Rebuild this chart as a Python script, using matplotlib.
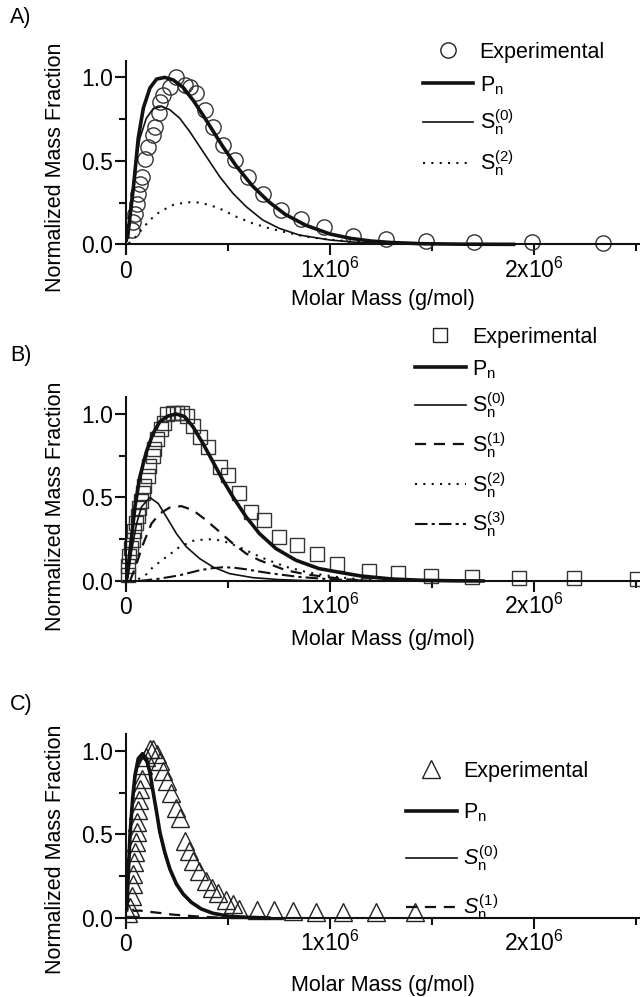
import matplotlib
matplotlib.use('Agg')
import matplotlib.pyplot as plt
from matplotlib.lines import Line2D

plt.rcParams['font.family'] = ['Liberation Sans', 'DejaVu Sans']
plt.rcParams['mathtext.fontset'] = 'custom'
plt.rcParams['mathtext.rm'] = 'Liberation Sans'
plt.rcParams['mathtext.it'] = 'Liberation Sans:italic'
plt.rcParams['mathtext.bf'] = 'Liberation Sans:bold'

MEGA = 1e6  # x values below are in 10^6 g/mol

# ---- panel A ----
a_exp_x = [0.028, 0.035, 0.043, 0.052, 0.060, 0.068, 0.076, 0.093, 0.109, 0.133, 0.141, 0.163,
           0.166, 0.182, 0.215, 0.247, 0.288, 0.312, 0.345, 0.385, 0.426, 0.475, 0.532, 0.597,
           0.670, 0.759, 0.857, 0.971, 1.112, 1.275, 1.470, 1.707, 1.990, 2.341]
a_exp_y = [0.088, 0.134, 0.184, 0.244, 0.304, 0.364, 0.404, 0.514, 0.584, 0.654, 0.704, 0.784,
           0.854, 0.894, 0.944, 1.004, 0.954, 0.944, 0.904, 0.804, 0.704, 0.594, 0.504, 0.404,
           0.304, 0.204, 0.154, 0.104, 0.052, 0.032, 0.022, 0.016, 0.012, 0.006]
a_p_x = [0.008, 0.02, 0.036, 0.06, 0.085, 0.117, 0.15, 0.19, 0.231, 0.28, 0.328, 0.377, 0.426,
         0.475, 0.54, 0.62, 0.70, 0.78, 0.88, 1.0, 1.1, 1.2, 1.3, 1.45, 1.65, 1.9]
a_p_y = [0.044, 0.17, 0.336, 0.636, 0.816, 0.936, 0.99, 1.0, 0.985, 0.94, 0.865, 0.775, 0.68,
         0.585, 0.47, 0.35, 0.255, 0.18, 0.115, 0.062, 0.036, 0.02, 0.011, 0.004, 0.001, 0.0]
a_s0_x = [0.006, 0.02, 0.044, 0.068, 0.1, 0.133, 0.174, 0.215, 0.263, 0.312, 0.361, 0.41, 0.459,
          0.524, 0.589, 0.67, 0.751, 0.849, 1.0, 1.15, 1.3, 1.5]
a_s0_y = [0.02, 0.196, 0.456, 0.636, 0.756, 0.812, 0.826, 0.806, 0.756, 0.676, 0.586, 0.496, 0.406,
          0.306, 0.226, 0.146, 0.096, 0.056, 0.026, 0.01, 0.004, 0.0]
a_s2_x = [0.013, 0.04, 0.068, 0.117, 0.166, 0.231, 0.296, 0.345, 0.41, 0.475, 0.54, 0.621, 0.702,
          0.784, 0.881, 1.0, 1.15, 1.3, 1.5]
a_s2_y = [0.005, 0.035, 0.076, 0.146, 0.196, 0.236, 0.252, 0.252, 0.236, 0.206, 0.166, 0.126, 0.096,
          0.072, 0.046, 0.028, 0.012, 0.005, 0.0]

# ---- panel B ----
b_exp_x = [0.008, 0.008, 0.016, 0.024, 0.033, 0.041, 0.049, 0.057, 0.065, 0.073, 0.081, 0.089,
           0.106, 0.114, 0.13, 0.138, 0.154, 0.171, 0.187, 0.203, 0.228, 0.252, 0.276, 0.30,
           0.33, 0.365, 0.40, 0.459, 0.499, 0.556, 0.612, 0.678, 0.751, 0.84, 0.938, 1.036,
           1.19, 1.335, 1.494, 1.694, 1.926, 2.195, 2.504]
b_exp_y = [0.038, 0.088, 0.148, 0.198, 0.248, 0.298, 0.348, 0.388, 0.438, 0.478, 0.528, 0.568,
           0.628, 0.688, 0.748, 0.788, 0.848, 0.908, 0.948, 0.998, 1.008, 1.008, 1.008, 0.99,
           0.928, 0.86, 0.80, 0.684, 0.634, 0.524, 0.414, 0.364, 0.264, 0.214, 0.164, 0.104,
           0.062, 0.045, 0.03, 0.025, 0.02, 0.015, 0.01]
b_p_x = [0.006, 0.02, 0.044, 0.068, 0.1, 0.133, 0.166, 0.206, 0.247, 0.288, 0.328, 0.377, 0.426,
         0.475, 0.524, 0.589, 0.654, 0.735, 0.833, 0.946, 1.036, 1.15, 1.3, 1.45, 1.6, 1.75]
b_p_y = [0.03, 0.184, 0.444, 0.624, 0.774, 0.884, 0.954, 0.988, 1.0, 0.984, 0.924, 0.824, 0.714,
         0.604, 0.504, 0.384, 0.284, 0.194, 0.124, 0.074, 0.054, 0.03, 0.012, 0.004, 0.001, 0.0]
b_s0_x = [0.007, 0.028, 0.052, 0.076, 0.117, 0.158, 0.198, 0.247, 0.296, 0.361, 0.426, 0.507,
          0.621, 0.751, 0.881, 1.0]
b_s0_y = [0.004, 0.184, 0.344, 0.444, 0.5, 0.464, 0.384, 0.284, 0.204, 0.134, 0.084, 0.044,
          0.02, 0.008, 0.002, 0.0]
b_s1_x = [0.02, 0.052, 0.085, 0.125, 0.166, 0.215, 0.272, 0.328, 0.393, 0.459, 0.524, 0.589,
          0.654, 0.719, 0.784, 0.881, 0.979, 1.08, 1.2]
b_s1_y = [0.0, 0.104, 0.224, 0.344, 0.404, 0.44, 0.448, 0.424, 0.364, 0.294, 0.224, 0.164,
          0.124, 0.094, 0.064, 0.04, 0.024, 0.01, 0.0]
b_s2_x = [0.06, 0.1, 0.133, 0.198, 0.263, 0.328, 0.393, 0.44, 0.5, 0.56, 0.62, 0.686, 0.784,
          0.88, 0.946, 1.044, 1.15, 1.25]
b_s2_y = [0.01, 0.04, 0.084, 0.144, 0.204, 0.24, 0.25, 0.248, 0.23, 0.2, 0.165, 0.13, 0.085,
          0.055, 0.04, 0.022, 0.01, 0.0]
b_s3_x = [0.068, 0.166, 0.263, 0.361, 0.42, 0.475, 0.524, 0.589, 0.654, 0.719, 0.849, 0.979,
          1.11, 1.25]
b_s3_y = [0.0, 0.014, 0.034, 0.064, 0.076, 0.082, 0.08, 0.07, 0.056, 0.044, 0.024, 0.012,
          0.004, 0.0]

# ---- panel C ----
c_exp_x = [0.012, 0.02, 0.028, 0.033, 0.036, 0.039, 0.044, 0.049, 0.052, 0.055, 0.06, 0.065,
           0.068, 0.076, 0.085, 0.098, 0.117, 0.133, 0.15, 0.166, 0.182, 0.2, 0.22, 0.245,
           0.265, 0.29, 0.31, 0.33, 0.36, 0.39, 0.42, 0.45, 0.49, 0.525, 0.556, 0.644, 0.727,
           0.82, 0.932, 1.063, 1.224, 1.415]
c_exp_y = [0.03, 0.064, 0.134, 0.204, 0.264, 0.334, 0.394, 0.454, 0.514, 0.574, 0.644, 0.704,
           0.774, 0.834, 0.914, 0.964, 1.014, 1.014, 0.985, 0.94, 0.88, 0.82, 0.75, 0.66,
           0.6, 0.46, 0.4, 0.34, 0.28, 0.22, 0.18, 0.15, 0.11, 0.085, 0.055, 0.05, 0.045,
           0.04, 0.038, 0.036, 0.035, 0.035]
c_p_x = [0.004, 0.011, 0.0195, 0.0325, 0.044, 0.06, 0.081, 0.1, 0.117, 0.133, 0.15, 0.166, 0.19,
         0.215, 0.247, 0.28, 0.32, 0.369, 0.426, 0.507, 0.589, 0.7]
c_p_y = [0.05, 0.254, 0.494, 0.714, 0.854, 0.954, 0.984, 0.954, 0.874, 0.754, 0.634, 0.514, 0.394,
         0.294, 0.204, 0.144, 0.094, 0.054, 0.028, 0.01, 0.004, 0.0]
c_s0_x = c_p_x
c_s0_y = [0.04, 0.24, 0.47, 0.69, 0.83, 0.93, 0.96, 0.935, 0.86, 0.74, 0.62, 0.5, 0.38,
          0.285, 0.196, 0.138, 0.09, 0.052, 0.026, 0.009, 0.003, 0.0]
c_s1_x = [0.006, 0.012, 0.025, 0.04, 0.068, 0.12, 0.166, 0.23, 0.296, 0.36, 0.426, 0.5]
c_s1_y = [0.16, 0.11, 0.06, 0.042, 0.044, 0.036, 0.03, 0.02, 0.014, 0.008, 0.004, 0.0]

INK = '#111111'
FS = 15.5
TICK_FS = 16.5

styles = {
    'P': dict(color=INK, lw=2.6, ls='-'),
    'S0': dict(color=INK, lw=1.2, ls='-'),
    'S1': dict(color=INK, lw=1.6, ls=(0, (5, 3.5))),
    'S2': dict(color=INK, lw=1.5, ls=(0, (1, 3))),
    'S3': dict(color=INK, lw=1.5, ls=(0, (6, 2, 1.5, 2))),
}

H = 997.0
fig = plt.figure(figsize=(6.4, 9.97), dpi=100)
left = 126 / 640.0
width = 1 - left
ax_h = 192 / H
axA = fig.add_axes([left, 1 - 252.7 / H, width, ax_h])
axB = fig.add_axes([left, 1 - 589.3 / H, width, ax_h])
axC = fig.add_axes([left, 1 - 926.3 / H, width, ax_h])


def mx(vals):
    return [v * MEGA for v in vals]


def style_axes(ax, xlab_y, ylab_y):
    ax.set_xlim(0, 2.52e6)
    ax.set_ylim(-0.05, 1.1)
    for s in ['top', 'right']:
        ax.spines[s].set_visible(False)
    ax.spines['bottom'].set_position(('data', 0))
    for s in ['left', 'bottom']:
        ax.spines[s].set_linewidth(1.5)
        ax.spines[s].set_color(INK)
    ax.set_xticks([0, 1e6, 2e6])
    ax.set_xticklabels(['0', '1x10$^{6}$', '2x10$^{6}$'])
    ax.set_xticks([0.5e6, 1.5e6, 2.5e6], minor=True)
    ax.set_yticks([0, 0.5, 1.0])
    ax.set_yticklabels(['0.0', '0.5', '1.0'])
    ax.set_yticks([0.25, 0.75], minor=True)
    ax.tick_params(which='major', direction='out', length=8, width=1.5, labelsize=TICK_FS, color=INK)
    ax.tick_params(which='minor', direction='out', length=5, width=1.5, color=INK)
    ax.tick_params(axis='y', pad=1)
    ax.tick_params(axis='x', pad=16)
    plt.setp(ax.get_xticklabels(), va='baseline')
    ax.set_xlabel('Molar Mass (g/mol)', fontsize=FS, va='center')
    ax.xaxis.set_label_coords(0.5, xlab_y)
    ax.set_ylabel('Normalized Mass Fraction', fontsize=FS, va='center')
    ax.yaxis.set_label_coords(-0.138, ylab_y)


# panel A
axA.plot(mx(a_exp_x), a_exp_y, 'o', ms=11, mfc='none', mec='#333333', mew=1.0, zorder=2)
axA.plot(mx(a_p_x), a_p_y, **styles['P'], zorder=3)
axA.plot(mx(a_s0_x), a_s0_y, **styles['S0'], zorder=3)
axA.plot(mx(a_s2_x), a_s2_y, **styles['S2'], zorder=3)
style_axes(axA, -0.246, 0.446)

# panel B
axB.plot(mx(b_exp_x), b_exp_y, 's', ms=9.6, mfc='none', mec='#333333', mew=1.0, zorder=2,
         clip_on=False)
axB.plot(mx(b_p_x), b_p_y, **styles['P'], zorder=3)
axB.plot(mx(b_s0_x), b_s0_y, **styles['S0'], zorder=3)
axB.plot(mx(b_s1_x), b_s1_y, **styles['S1'], zorder=3)
axB.plot(mx(b_s2_x), b_s2_y, **styles['S2'], zorder=3)
axB.plot(mx(b_s3_x), b_s3_y, **styles['S3'], zorder=3)
style_axes(axB, -0.264, 0.43)

# panel C
axC.plot(mx(c_exp_x), c_exp_y, '^', ms=13, mfc='none', mec='#222222', mew=1.0, zorder=2)
axC.plot(mx(c_p_x), c_p_y, **styles['P'], zorder=3)
axC.plot(mx(c_s0_x), c_s0_y, **styles['S0'], zorder=3)
axC.plot(mx(c_s1_x), c_s1_y, **styles['S1'], zorder=3)
style_axes(axC, -0.306, 0.40)


def exp_handle(marker, ms):
    return Line2D([], [], ls='none', marker=marker, ms=ms, mfc='none', mec='#222222', mew=1.0)


def line_handle(key):
    return Line2D([], [], **styles[key])


leg_kw = dict(loc='upper left', bbox_transform=fig.transFigure, frameon=False, fontsize=FS,
              handlelength=2.35, handletextpad=0.3, borderpad=0, borderaxespad=0)

axA.legend([exp_handle('o', 11), line_handle('P'), line_handle('S0'), line_handle('S2')],
           ['Experimental', 'P$_{\\rm n}$', 'S$_{\\rm n}^{\\rm (0)}$', 'S$_{\\rm n}^{\\rm (2)}$'],
           bbox_to_anchor=(422.7 / 640, 1 - 42 / H), labelspacing=0.51, **leg_kw)
axB.legend([exp_handle('s', 9.6), line_handle('P'), line_handle('S0'), line_handle('S1'),
            line_handle('S2'), line_handle('S3')],
           ['Experimental', 'P$_{\\rm n}$', 'S$_{\\rm n}^{\\rm (0)}$', 'S$_{\\rm n}^{\\rm (1)}$',
            'S$_{\\rm n}^{\\rm (2)}$', 'S$_{\\rm n}^{\\rm (3)}$'],
           bbox_to_anchor=(415 / 640, 1 - 327 / H), labelspacing=0.46, **leg_kw)
axC.legend([exp_handle('^', 13), line_handle('P'), line_handle('S0'), line_handle('S1')],
           ['Experimental', 'P$_{\\rm n}$', '$S_{\\rm n}^{\\rm (0)}$', '$S_{\\rm n}^{\\rm (1)}$'],
           bbox_to_anchor=(406 / 640, 1 - 761 / H), labelspacing=0.9, **leg_kw)

fig.text(10 / 640, 1 - 18 / H, 'A)', fontsize=FS, va='center', ha='left')
fig.text(10 / 640, 1 - 356 / H, 'B)', fontsize=FS, va='center', ha='left')
fig.text(10 / 640, 1 - 704 / H, 'C)', fontsize=FS, va='center', ha='left')

fig.savefig('out.png', dpi=100)
